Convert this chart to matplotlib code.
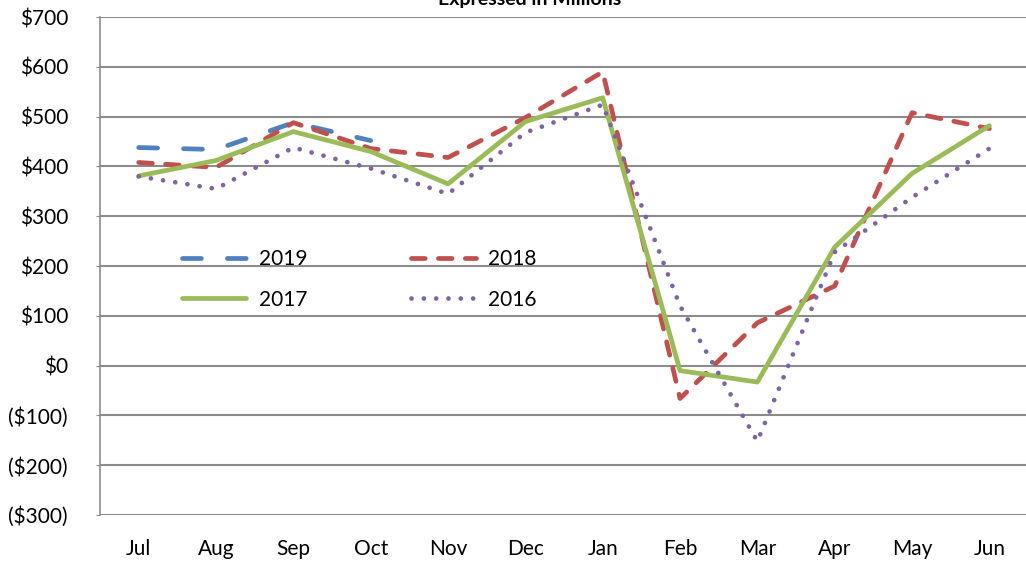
import numpy as np
import matplotlib.pyplot as plt
from matplotlib.ticker import FuncFormatter

months = ['Jul', 'Aug', 'Sep', 'Oct', 'Nov', 'Dec', 'Jan', 'Feb', 'Mar', 'Apr', 'May', 'Jun']
fy2019 = [438, 434, 488, 452]
fy2018 = [408, 398, 488, 436, 418, 498, 590, -66, 86, 160, 508, 476]
fy2017 = [381, 412, 470, 430, 365, 490, 538, -10, -33, 238, 386, 482]
fy2016 = [380, 355, 438, 396, 345, 468, 524, 120, -152, 228, 338, 436]

plt.rcParams['font.family'] = ['Lato', 'DejaVu Sans']

fig = plt.figure(figsize=(10.26, 5.62), dpi=100)
ax = fig.add_axes([0.0975, 0.0836, 0.9045, 0.886])

x = np.arange(len(months))
l19, = ax.plot(x[:len(fy2019)], fy2019, color='#4F81BD', lw=3.4, dashes=(4, 5.5),
               dash_capstyle='round', label='2019')
l18, = ax.plot(x, fy2018, color='#C0504D', lw=3.4, dashes=(2.9, 2.8),
               dash_capstyle='round', label='2018')
l17, = ax.plot(x, fy2017, color='#9BBB59', lw=3.4, solid_capstyle='round', label='2017')
l16, = ax.plot(x, fy2016, color='#8064A2', lw=3.4, dashes=(0.01, 2.6),
               dash_capstyle='round', label='2016')

ax.set_xlim(-0.5, 11.5)
ax.set_ylim(-300, 700)
ax.set_yticks(range(-300, 701, 100))
ax.set_xticks(x)
ax.set_xticklabels(months)


def money(v, pos):
    v = int(round(v))
    return '(${})'.format(-v) if v < 0 else '${}'.format(v)


ax.yaxis.set_major_formatter(FuncFormatter(money))
ax.grid(axis='y', color='#8c8c8c', lw=1.5)
ax.set_axisbelow(True)
for s in ['top', 'right', 'bottom']:
    ax.spines[s].set_visible(False)
ax.spines['left'].set_color('#8c8c8c')
ax.spines['left'].set_linewidth(1.2)
ax.tick_params(axis='y', length=3, color='#8c8c8c', labelsize=15, pad=20)
ax.tick_params(axis='x', length=0, labelsize=15, pad=17)

# legend fills by column, so order gives rows 2019/2018 and 2017/2016
ax.legend([l19, l17, l18, l16], ['2019', '2017', '2018', '2016'], ncol=2,
          loc='upper left', bbox_to_anchor=(0.068, 0.572), frameon=False,
          fontsize=15, handlelength=3.1, columnspacing=5.0, labelspacing=1.0,
          handletextpad=0.58)

fig.text(0.516, 0.991, 'Expressed in Millions', ha='center', va='baseline',
         fontsize=14, fontweight='bold')

fig.savefig('out.png', dpi=100)
